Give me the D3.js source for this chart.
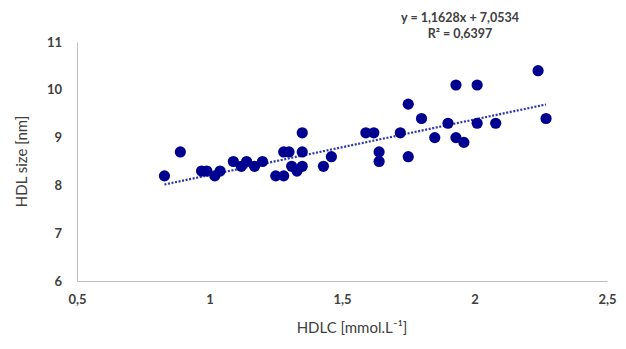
<!DOCTYPE html>
<html>
<head>
<meta charset="utf-8">
<script src="https://cdn.jsdelivr.net/npm/d3@7"></script>
<style>
  body { margin: 0; background: #fff; }
  text { font-family: Lato, "Open Sans", sans-serif; fill: #404040; }
</style>
</head>
<body>
<svg id="chart" width="626" height="349"></svg>
<script>
// HDLC (mmol/L) vs HDL size (nm)
const hdlc = [0.83, 0.89, 0.97, 0.99, 1.02, 1.04, 1.09, 1.12, 1.14, 1.17,
  1.20, 1.25, 1.28, 1.28, 1.30, 1.31, 1.33, 1.35, 1.35, 1.35,
  1.43, 1.46, 1.59, 1.62, 1.64, 1.64, 1.72, 1.75, 1.75, 1.80,
  1.85, 1.90, 1.93, 1.93, 1.96, 2.01, 2.01, 2.08, 2.24, 2.27]
const hdlSize = [8.2, 8.7, 8.3, 8.3, 8.2, 8.3, 8.5, 8.4, 8.5, 8.4,
  8.5, 8.2, 8.2, 8.7, 8.7, 8.4, 8.3, 9.1, 8.7, 8.4,
  8.4, 8.6, 9.1, 9.1, 8.7, 8.5, 9.1, 9.7, 8.6, 9.4,
  9.0, 9.3, 10.1, 9.0, 8.9, 10.1, 9.3, 9.3, 10.4, 9.4]
const xTicks = [0.5, 1, 1.5, 2, 2.5]
const yTicks = [6, 7, 8, 9, 10, 11]
const slope = 1.1628
const intercept = 7.0534
const rSquared = 0.6397

const svg = d3.select('#chart')
const margin = { top: 42, right: 19, bottom: 68, left: 77 }
const width = 626
const height = 349
const innerWidth = width - margin.left - margin.right
const innerHeight = height - margin.top - margin.bottom

const comma = d => String(d).replace('.', ',')

const xScale = d3.scaleLinear().domain([0.5, 2.5]).range([0, innerWidth])
const yScale = d3.scaleLinear().domain([6, 11]).range([innerHeight, 0])

const g = svg.append('g')
  .attr('transform', `translate(${margin.left},${margin.top})`)

// axes
const xAxisG = g.append('g')
  .attr('transform', `translate(0,${innerHeight})`)
  .call(d3.axisBottom(xScale).tickValues(xTicks).tickFormat(comma).tickSize(0).tickPadding(14))
xAxisG.select('.domain').attr('stroke', '#bfbfbf')
xAxisG.selectAll('.tick text')
  .style('font-size', '13px').style('font-weight', 'bold').attr('fill', '#404040')

const yAxisG = g.append('g')
  .call(d3.axisLeft(yScale).tickValues(yTicks).tickFormat(comma).tickSize(0).tickPadding(15))
yAxisG.select('.domain').attr('stroke', '#bfbfbf')
yAxisG.selectAll('.tick text')
  .style('font-size', '13px').style('font-weight', 'bold').attr('fill', '#404040')

svg.selectAll('.domain').attr('stroke-width', 1)

// axis titles
g.append('text')
  .attr('x', innerWidth / 2 + 10)
  .attr('y', innerHeight + 52)
  .attr('text-anchor', 'middle')
  .style('font-size', '15px')
  .text('HDLC [mmol.L⁻¹]')

g.append('text')
  .attr('transform', `translate(${-50},${innerHeight / 2}) rotate(-90)`)
  .attr('text-anchor', 'middle')
  .style('font-size', '15px')
  .text('HDL size [nm]')

// trendline
const xExtent = d3.extent(hdlc)
g.append('line')
  .attr('x1', xScale(xExtent[0]))
  .attr('x2', xScale(xExtent[1]))
  .attr('y1', yScale(slope * xExtent[0] + intercept))
  .attr('y2', yScale(slope * xExtent[1] + intercept))
  .attr('stroke', '#2a35b0')
  .attr('stroke-width', 2.2)
  .attr('stroke-dasharray', '2,1.6')

// points
g.selectAll('circle').data(hdlc)
  .enter().append('circle')
  .attr('cx', d => xScale(d))
  .attr('cy', (d, i) => yScale(hdlSize[i]))
  .attr('r', 5.6)
  .attr('fill', '#000090')

// equation
svg.append('text')
  .attr('x', 460).attr('y', 22)
  .attr('text-anchor', 'middle')
  .style('font-size', '12.5px').style('font-weight', 'bold')
  .text(`y = ${comma(slope)}x + ${comma(intercept)}`)
svg.append('text')
  .attr('x', 460).attr('y', 38)
  .attr('text-anchor', 'middle')
  .style('font-size', '12.5px').style('font-weight', 'bold')
  .text(`R² = ${comma(rSquared)}`)
</script>
</body>
</html>
